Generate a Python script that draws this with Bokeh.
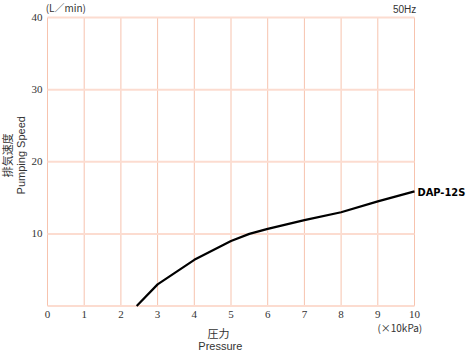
from bokeh.plotting import figure
from bokeh.models import Range1d, Label
from bokeh.embed import file_html
from bokeh.resources import INLINE

# Data
pressure = [2.43, 3, 4, 5, 5.5, 6, 7, 8, 9, 10]
speed = [0.0, 3.0, 6.4, 9.0, 10.0, 10.7, 11.9, 13.0, 14.5, 15.9]
x_ticks = [0, 1, 2, 3, 4, 5, 6, 7, 8, 9, 10]
y_ticks = [10, 20, 30, 40]
x_tick_labels = [str(t) for t in x_ticks]
y_tick_labels = [str(t) for t in y_ticks]
series_name = "DAP-12S"

X_MIN, X_MAX = 0, 10
Y_MIN, Y_MAX = 0, 40

W, H = 467, 354
FL, FR, FT, FB = 47, 414, 17, 305.5  # plot-area pixel box
sx = (FR - FL) / (X_MAX - X_MIN)
sy = (FB - FT) / (Y_MAX - Y_MIN)

FONT = "Liberation Sans"
JFONT = "Noto Sans CJK JP"
TXT = "#333333"

p = figure(width=W, height=H, output_backend="svg", toolbar_location=None,
           x_range=Range1d(X_MIN - FL / sx, X_MAX + (W - FR) / sx),
           y_range=Range1d(Y_MIN - (H - FB) / sy, Y_MAX + FT / sy),
           min_border=0, x_axis_location=None, y_axis_location=None)
p.outline_line_color = None
p.grid.visible = False
p.background_fill_color = "white"
p.border_fill_color = "white"

# grid lines
p.segment(x0=x_ticks, y0=[Y_MIN] * len(x_ticks), x1=x_ticks, y1=[Y_MAX] * len(x_ticks),
          line_color="#f7c3ae", line_width=1)
hy = [Y_MIN] + y_ticks
p.segment(x0=[X_MIN] * len(hy), y0=hy, x1=[X_MAX] * len(hy), y1=hy,
          line_color="#fcdcd0", line_width=2)

# tick labels
p.text(x=x_ticks, y=[Y_MIN - 8 / sy] * len(x_ticks), text=x_tick_labels,
       text_align="center", text_baseline="middle", text_font=FONT,
       text_font_size="11px", text_color=TXT)
p.text(x=[X_MIN - 5 / sx] * len(y_ticks), y=y_ticks, text=y_tick_labels,
       text_align="right", text_baseline="middle", text_font=FONT,
       text_font_size="11px", text_color=TXT)

p.line(pressure, speed, line_color="black", line_width=2.2, line_join="round")

def lab(text, x, y, align="left", font=FONT, size="11px", angle=0, bold=False):
    p.add_layout(Label(x=x, y=y, text=text, text_align=align, text_baseline="middle",
                       text_font=font, text_font_size=size,
                       text_color="black" if bold else TXT,
                       angle=angle, angle_units="deg",
                       text_font_style="bold" if bold else "normal"))

lab("(L／min)", -0.05, 41.35, font=JFONT, size="10px")
lab("50Hz", 10.05, 41.1, align="right", size="10px")
lab(series_name, 10.08, 15.7, font="DejaVu Sans Condensed", size="11px", bold=True)
lab("(×10kPa)", 9.6, -3.0, align="center", font=JFONT, size="10px")
lab("圧力", 4.66, -3.8, align="center", font=JFONT, size="11px")
lab("Pressure", 4.71, -5.6, align="center", size="11px")
lab("排気速度", -1.09, 20.9, align="center", font=JFONT, size="11px", angle=90)
lab("Pumping Speed", -0.71, 20.9, align="center", size="11px", angle=90)

open("out.html", "w").write(file_html(p, INLINE))
